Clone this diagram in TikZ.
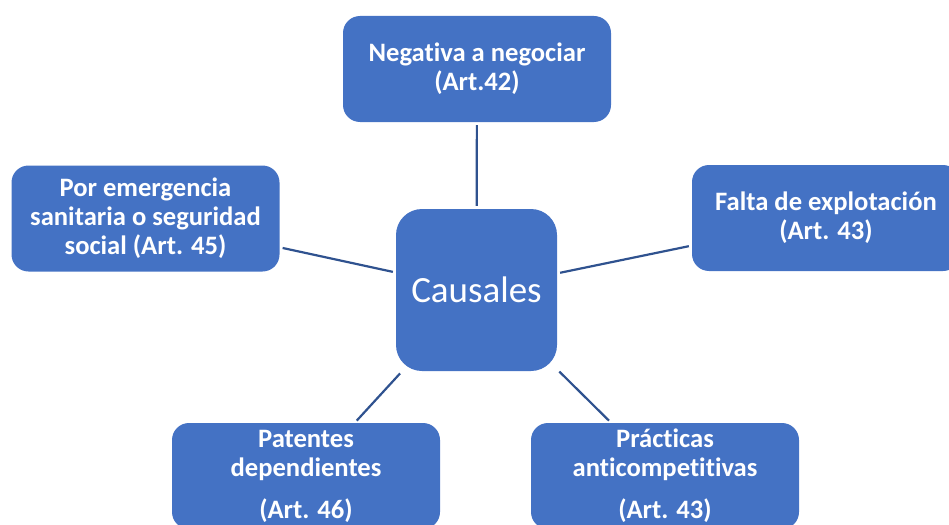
\documentclass[tikz,border=0pt]{standalone}
\usepackage{fontspec}
\setmainfont{Carlito}[Ligatures=NoCommon]
\definecolor{boxblue}{HTML}{4472C4}
\definecolor{linkblue}{HTML}{2F528F}
\begin{document}
\begin{tikzpicture}[x=1pt,y=-1pt,
  outer/.style={fill=boxblue, draw=none, rounded corners=17pt, minimum width=268pt, minimum height=106pt,
    inner sep=0pt, text=white, align=center, font=\fontsize{26.6}{29}\selectfont\bfseries},
  hub/.style={fill=boxblue, draw=none, rounded corners=26pt, minimum width=161pt, minimum height=162pt,
    inner sep=0pt, text=white, font=\fontsize{37}{44}\selectfont},
  link/.style={draw=linkblue, line width=2.2pt, shorten <=3pt, shorten >=3pt}]
\useasboundingbox (0,0) rectangle (949,524);
\clip (0,0) rectangle (949,524);
\node[hub] (c) at (476.5,290) {Causales};
\node[outer] (t) at (477,69) {Negativa a negociar\\(Art.42)};
\node[outer] (l) at (145.5,218.5) {Por emergencia\\sanitaria o seguridad\\social (Art. 45)};
\node[outer] (r) at (826,218) {Falta de explotación\\(Art. 43)};
\node[outer] (bl) at (306,476) {Patentes\\dependientes\\[13pt](Art. 46)};
\node[outer] (br) at (665,476) {Prácticas\\anticompetitivas\\[13pt](Art. 43)};
\draw[link] (t) -- (c);
\draw[link] (c) -- (l);
\draw[link] (c) -- (r);
\draw[link] (c) -- (bl);
\draw[link] (c) -- (br);
\end{tikzpicture}
\end{document}
